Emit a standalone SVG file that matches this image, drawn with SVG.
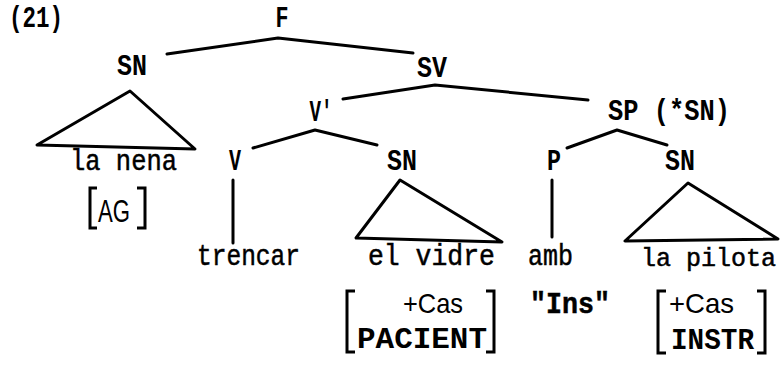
<svg xmlns="http://www.w3.org/2000/svg" width="782" height="366" viewBox="0 0 782 366">
<style>
.t{font-family:"Liberation Mono","Courier New",monospace;font-weight:bold;font-size:29px;fill:#000}
.w{font-family:"Liberation Mono","Courier New",monospace;font-size:29px;fill:#000;stroke:#000;stroke-width:0.5}
.s{font-family:"Liberation Sans",Arial,sans-serif;font-size:28px;fill:#000}
.l{fill:none;stroke:#000;stroke-width:3;stroke-linejoin:round;stroke-linecap:round}
.b{fill:none;stroke:#000;stroke-width:3;stroke-linejoin:miter}
</style>
<rect width="782" height="366" fill="#fff"/>
<text class="t" x="9" y="27" textLength="54" lengthAdjust="spacingAndGlyphs">(21)</text>
<g id="connectors">
<polyline class="l" points="167,54 278,38 413,53"/>
<polyline class="l" points="343,99 435,85 588,100"/>
<polyline class="l" points="253,148 315,130 377,145"/>
<polyline class="l" points="567,148 617,130 667,145"/>
<line class="l" x1="233" y1="180" x2="233" y2="243"/>
<line class="l" x1="552" y1="180" x2="552" y2="237"/>
</g>
<g id="F"><text class="t" x="282" y="27" text-anchor="middle" textLength="13" lengthAdjust="spacingAndGlyphs">F</text></g>
<g id="SN1"><text class="t" x="132" y="75" text-anchor="middle" textLength="30" lengthAdjust="spacingAndGlyphs">SN</text>
<polygon class="l" points="130,91 37,145 195,149"/></g>
<g id="SV"><text class="t" x="432" y="77" text-anchor="middle" textLength="30" lengthAdjust="spacingAndGlyphs">SV</text></g>
<g id="Vbar"><text class="t" x="321" y="121" text-anchor="middle" textLength="23" lengthAdjust="spacingAndGlyphs">V'</text></g>
<g id="SP"><text class="t" x="608" y="120" textLength="122" lengthAdjust="spacingAndGlyphs">SP (*SN)</text></g>
<g id="V"><text class="t" x="235" y="170" text-anchor="middle" textLength="12" lengthAdjust="spacingAndGlyphs">V</text></g>
<g id="SN2"><text class="t" x="402" y="170" text-anchor="middle" textLength="30" lengthAdjust="spacingAndGlyphs">SN</text>
<polygon class="l" points="400,180 356,238 502,242"/></g>
<g id="P"><text class="t" x="554" y="170" text-anchor="middle" textLength="14" lengthAdjust="spacingAndGlyphs">P</text></g>
<g id="SN3"><text class="t" x="680" y="170" text-anchor="middle" textLength="30" lengthAdjust="spacingAndGlyphs">SN</text>
<polygon class="l" points="688,183 625,241 778,239"/></g>
<g id="lanena"><text class="w" x="70" y="170" textLength="107" lengthAdjust="spacingAndGlyphs">la nena</text>
<path class="b" d="M97,188 H90 V228 H97 M137,188 H145 V228 H137"/>
<text class="s" x="114" y="222" text-anchor="middle" textLength="32" lengthAdjust="spacingAndGlyphs" style="font-size:31px">AG</text></g>
<g id="trencar"><text class="w" x="197" y="265" textLength="103" lengthAdjust="spacingAndGlyphs">trencar</text></g>
<g id="elvidre"><text class="w" x="368" y="265" textLength="127" lengthAdjust="spacingAndGlyphs">el vidre</text>
<path class="b" d="M355,291 H347 V352 H355 M486,291 H494 V352 H486"/>
<text class="s" x="433" y="313" text-anchor="middle" textLength="60" lengthAdjust="spacingAndGlyphs">+Cas</text>
<text class="t" x="357" y="348" textLength="130" lengthAdjust="spacingAndGlyphs">PACIENT</text></g>
<g id="amb"><text class="w" x="528" y="265" textLength="45" lengthAdjust="spacingAndGlyphs">amb</text>
<text class="w" x="530" y="313" textLength="80" lengthAdjust="spacingAndGlyphs" style="font-weight:bold">"Ins"</text></g>
<g id="lapilota"><text class="w" x="641" y="266" style="font-size:25px">la pilota</text>
<path class="b" d="M666,291 H658 V353 H666 M757,291 H765 V353 H757"/>
<text class="s" x="669" y="313" textLength="65" lengthAdjust="spacingAndGlyphs">+Cas</text>
<text class="t" x="671" y="349" textLength="83" lengthAdjust="spacingAndGlyphs">INSTR</text></g>
</svg>
